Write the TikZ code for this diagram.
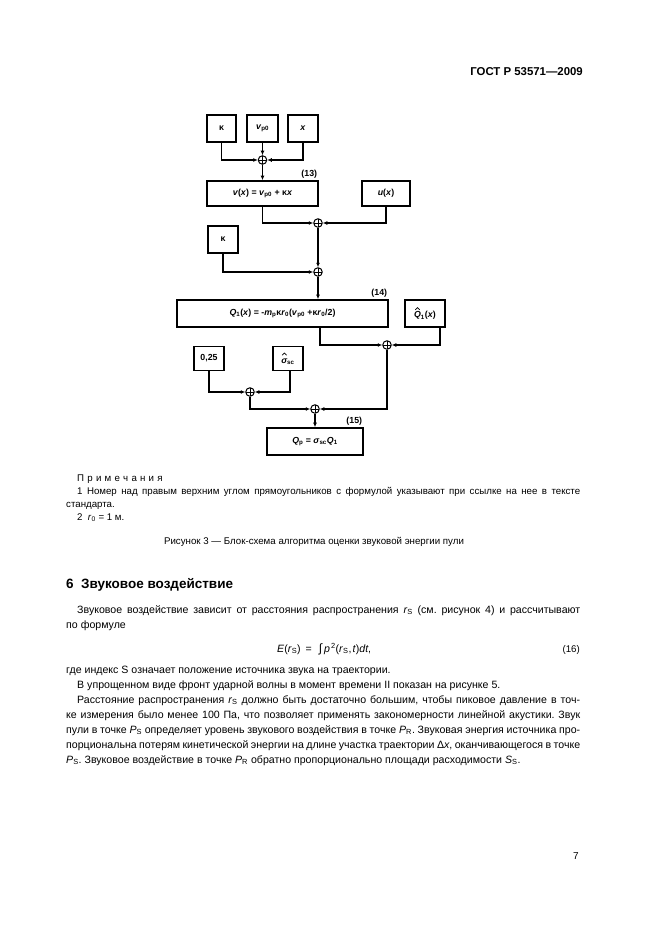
\documentclass[tikz,border=0pt]{standalone}
\usepackage{fontspec}
\setmainfont{Liberation Sans}
\usetikzlibrary{arrows.meta}
\frenchspacing
\newcommand\sbs[1]{\textsubscript{#1}}
\newcommand\sps[1]{\textsuperscript{#1}}
\newcommand\vi[1]{\textit{#1}}
\newcommand\hatit[1]{{\sbox0{\itshape #1}\rlap{\hbox to \wd0{\hss\tikz[baseline=0pt,x=1pt,y=1pt]{\draw[line width=0.7pt] (0,8) -- (2.2,10.2) -- (4.4,8);}\hss}}\usebox0}}
\newcommand\jline[2]{\makebox[#1][s]{#2}}
\tikzset{
  blk/.style={draw, line width=1.6pt, inner sep=0pt, font=\fontsize{8.8}{10}\selectfont\bfseries},
  sum/.style={circle, draw, line width=1pt, minimum size=8.5pt, inner sep=0pt,
    path picture={\draw[line width=0.8pt] (path picture bounding box.north) -- (path picture bounding box.south)
      (path picture bounding box.west) -- (path picture bounding box.east);}},
  conn/.style={line width=1.4pt, -{Latex[length=4.5pt,width=4pt]}},
  eqnum/.style={font=\fontsize{8.8}{10}\selectfont\bfseries, anchor=south east, inner sep=1.5pt},
  body/.style={font=\fontsize{10.6}{13}\selectfont, anchor=base west, inner sep=0pt},
  note/.style={font=\fontsize{9.7}{11}\selectfont, anchor=base west, inner sep=0pt}
}
\begin{document}
\begin{tikzpicture}[x=1pt,y=-1pt]
\useasboundingbox[fill=white] (0,0) rectangle (661,936);

% header
\node[font=\fontsize{11.4}{13}\selectfont\bfseries, anchor=base east, inner sep=0pt] (hdr) at (583,76) {ГОСТ Р 53571—2009};

% diagram blocks
\node[blk, minimum width=29pt, minimum height=27pt] (k1) at (221.5,128.5) {κ};
\node[blk, minimum width=31pt, minimum height=27pt] (vp) at (262.5,128.5) {\vi{v}\sbs{p0}};
\node[blk, minimum width=30pt, minimum height=27pt] (xb) at (303,128.5) {\vi{x}};
\node[sum] (c1) at (262.5,160) {};
\node[blk, minimum width=111pt, minimum height=25pt] (b13) at (262.5,193.5) {\vi{v}(\vi{x}) = \vi{v}\sbs{p0} + κ\vi{x}};
\node[eqnum] (n13) at (b13.north east) {(13)};
\node[blk, minimum width=48pt, minimum height=25pt] (ux) at (386,193.5) {\vi{u}(\vi{x})};
\node[sum] (c2) at (318,223) {};
\node[blk, minimum width=30pt, minimum height=27pt] (k2) at (223,239.5) {κ};
\node[sum] (c3) at (318,272) {};
\node[blk, minimum width=211pt, minimum height=27pt] (b14) at (282.5,313.5) {\vi{Q}\sbs{1}(\vi{x}) = -\vi{m}\sbs{p}κ\vi{r}\sbs{0}(\vi{v}\sbs{p0} +κ\vi{r}\sbs{0}/2)};
\node[eqnum] (n14) at (b14.north east) {(14)};
\node[blk, minimum width=40pt, minimum height=27pt] (q1) at (425,313.5) {\hatit{Q}\sbs{1}(\vi{x})};
\node[sum] (c4) at (387,345) {};
\node[blk, minimum width=30pt, minimum height=24pt] (k25) at (209,358.5) {0,25};
\node[blk, minimum width=30pt, minimum height=24pt] (sg) at (288,358.5) {\hatit{σ}\sbs{sc}};
\node[sum] (c5) at (250,392) {};
\node[sum] (c6) at (315,409) {};
\node[blk, minimum width=96pt, minimum height=27pt] (b15) at (315,441.5) {\vi{Q}\sbs{p} = \vi{σ}\sbs{sc}\vi{Q}\sbs{1}};
\node[eqnum] (n15) at (b15.north east) {(15)};

% connectors
\draw[conn] (k1.south) |- (c1.west);
\draw[conn] (vp.south) -- (c1.north);
\draw[conn] (xb.south) |- (c1.east);
\draw[conn] (c1.south) -- (b13.north);
\draw[conn] (b13.south) |- (c2.west);
\draw[conn] (ux.south) |- (c2.east);
\draw[conn] (c2.south) -- (c3.north);
\draw[conn] (k2.south) |- (c3.west);
\draw[conn] (c3.south) -- (c3.south |- b14.north);
\coordinate (o14) at ([xshift=37.5pt]b14.south);
\draw[conn] (o14) |- (c4.west);
\coordinate (oq) at ([xshift=15pt]q1.south);
\draw[conn] (oq) |- (c4.east);
\draw[conn] (k25.south) |- (c5.west);
\coordinate (osg) at ([xshift=2pt]sg.south);
\draw[conn] (osg) |- (c5.east);
\draw[conn] (c4.south) |- (c6.east);
\draw[conn] (c5.south) |- (c6.west);
\draw[conn] (c6.south) -- (b15.north);

% notes
\node[note] (nt0) at (77,481) {П\,\,р\,\,и\,\,м\,\,е\,\,ч\,\,а\,\,н\,\,и\,\,я};
\node[note] (nt1) at (77,494) {\jline{503pt}{1 Номер над правым верхним углом прямоугольников с формулой указывают при ссылке на нее в тексте}};
\node[note] (nt2) at (66,507) {стандарта.};
\node[note] (nt3) at (77,520) {2\ \ \vi{r}\sbs{0} = 1 м.};
\node[note, anchor=base] (cap) at (314,544) {Рисунок 3 — Блок-схема алгоритма оценки звуковой энергии пули};

% section
\node[font=\fontsize{13.5}{15}\selectfont\bfseries, anchor=base west, inner sep=0pt] (sec) at (66,588) {6\ \ Звуковое воздействие};
\node[body] (p1) at (77,613) {\jline{503pt}{Звуковое воздействие зависит от расстояния распространения \vi{r}\sbs{S} (см. рисунок 4) и рассчитывают}};
\node[body] (p2) at (66,628) {по формуле};
\node[body] (eq) at (277,652) {\vi{E}(\vi{r}\sbs{S})\hspace{2pt} =\hspace{7pt}{\fontsize{12}{13}\selectfont ∫}\hspace{2pt}\vi{p}\hspace{1pt}\sps{2}(\vi{r}\sbs{S},\hspace{1pt}\vi{t})\vi{dt},};
\node[note, anchor=base east] (eqn) at (580,652) {(16)};
\node[body] (p3) at (66,673) {где индекс S означает положение источника звука на траектории.};
\node[body] (p4) at (77,688) {В упрощенном виде фронт ударной волны в момент времени II показан на рисунке 5.};
\node[body] (p5) at (77,703) {\jline{503pt}{Расстояние распространения \vi{r}\sbs{S} должно быть достаточно большим, чтобы пиковое давление в точ-}};
\node[body] (p6) at (66,718) {\jline{514pt}{ке измерения было менее 100 Па, что позволяет применять закономерности линейной акустики. Звук}};
\node[body] (p7) at (66,733) {\jline{514pt}{пули в точке \vi{P}\sbs{S} определяет уровень звукового воздействия в точке \vi{P}\sbs{R}. Звуковая энергия источника про-}};
\node[body] (p8) at (66,748) {\jline{514pt}{порциональна потерям кинетической энергии на длине участка траектории Δ\vi{x}, оканчивающегося в точке}};
\node[body] (p9) at (66,763) {\vi{P}\sbs{S}. Звуковое воздействие в точке \vi{P}\sbs{R} обратно пропорционально площади расходимости \vi{S}\sbs{S}.};

\node[font=\fontsize{10}{12}\selectfont, anchor=base, inner sep=0pt] (pg) at (576,859) {7};
\end{tikzpicture}
\end{document}
